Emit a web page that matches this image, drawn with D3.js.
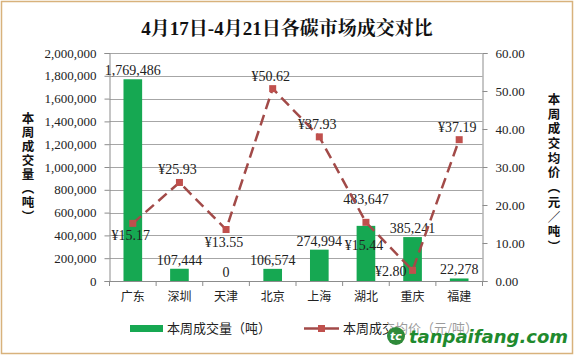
<!DOCTYPE html>
<html><head><meta charset="utf-8">
<script src="https://cdn.jsdelivr.net/npm/d3@7"></script>
<style>
html,body{margin:0;padding:0;background:#fff;}
svg{display:block;}
</style></head>
<body>
<svg id="chart" width="577" height="357"></svg>
<script>
const categories = ["广东","深圳","天津","北京","上海","湖北","重庆","福建"];
const volumes = [1769486, 107444, 0, 106574, 274994, 483647, 385241, 22278];
const prices = [15.17, 25.93, 13.55, 50.62, 37.93, 15.44, 2.80, 37.19];
const leftTicks = [0,200000,400000,600000,800000,1000000,1200000,1400000,1600000,1800000,2000000];
const rightTicks = [0,10,20,30,40,50,60];
const title = "4月17日-4月21日各碳市场成交对比";
const leftTitle = "本周成交量（吨）";
const rightTitle = "本周成交均价（元／吨）";
const legendLabels = ["本周成交量（吨）","本周成交均价（元/吨）"];
// label placement (style, not data)
const priceLabelPlace = ["below","above","below","above","above","below","left","above"];
const volLabelExtra = [0,0,0,0,0,18,0,0];

const serif = "'Liberation Serif','Times New Roman','Noto Serif CJK SC','Noto Sans CJK SC',serif";
const cjk = "'Noto Sans CJK SC','Noto Sans',sans-serif";
const barColor = "#16a852";
const lineColor = "#a24a48";
const markColor = "#c0504d";

const svg = d3.select("#chart");
svg.append("rect").attr("x",1.5).attr("y",1.5).attr("width",571).attr("height",352)
  .attr("fill","#fff").attr("stroke","#d8b27c").attr("stroke-width",1.5);

const m = {l:109.5, r:482.5, t:53, b:281};
const x = d3.scaleBand().domain(categories).range([m.l,m.r]).paddingInner(0.6).paddingOuter(0.3);
const xb = d3.scaleBand().domain(categories).range([m.l,m.r]);
const y = d3.scaleLinear().domain([0,2000000]).range([m.b,m.t]);
const y2 = d3.scaleLinear().domain([0,60]).range([m.b,m.t]);

// title
svg.append("text").attr("x",287).attr("y",35).attr("text-anchor","middle")
  .attr("font-family",serif).attr("font-weight","bold").attr("font-size",19).attr("fill","#111").text(title);

// gridlines
svg.append("g").selectAll("line").data(leftTicks.slice(1)).join("line")
  .attr("x1",m.l).attr("x2",m.r).attr("y1",d=>Math.round(y(d))+0.5).attr("y2",d=>Math.round(y(d))+0.5)
  .attr("stroke","#a6a6a6").attr("stroke-width",1);

// left axis
const gl = svg.append("g").attr("transform",`translate(${m.l},0)`)
  .call(d3.axisLeft(y).tickValues(leftTicks).tickFormat(d3.format(",")).tickSize(5).tickPadding(8));
gl.selectAll("text").attr("font-family",serif).attr("font-size",13).attr("fill","#222");
gl.selectAll("line,path").attr("stroke","#8c8c8c");

// right axis
const gr = svg.append("g").attr("transform",`translate(${m.r},0)`)
  .call(d3.axisRight(y2).tickValues(rightTicks).tickFormat(d3.format(".2f")).tickSize(5).tickPadding(8));
gr.selectAll("text").attr("font-family",serif).attr("font-size",13).attr("fill","#222");
gr.selectAll("line,path").attr("stroke","#8c8c8c");

// bottom axis
const gb = svg.append("g").attr("transform",`translate(0,${m.b})`)
  .call(d3.axisBottom(xb).tickSize(0).tickPadding(11));
gb.selectAll("text").attr("font-family",cjk).attr("font-size",12).attr("fill","#222");
gb.select("path").attr("stroke","#8c8c8c");
const bounds = categories.map(c=>xb(c)).concat([m.r]);
svg.append("g").selectAll("line").data(bounds).join("line")
  .attr("x1",d=>d).attr("x2",d=>d).attr("y1",m.b).attr("y2",m.b+5).attr("stroke","#8c8c8c");

// bars
svg.append("g").selectAll("rect").data(volumes).join("rect")
  .attr("x",(d,i)=>x(categories[i])).attr("width",x.bandwidth())
  .attr("y",d=>y(d)).attr("height",d=>m.b-y(d)).attr("fill",barColor);

// bar labels
svg.append("g").selectAll("text").data(volumes).join("text")
  .attr("x",(d,i)=>xb(categories[i])+xb.bandwidth()/2)
  .attr("y",(d,i)=>y(d)-4-volLabelExtra[i])
  .attr("text-anchor","middle").attr("font-family",serif).attr("font-size",14).attr("fill","#222")
  .text(d=>d3.format(",")(d));

// line
const px = i => xb(categories[i])+xb.bandwidth()/2;
const line = d3.line().x((d,i)=>px(i)).y(d=>y2(d));
svg.append("path").datum(prices).attr("d",line).attr("fill","none")
  .attr("stroke",lineColor).attr("stroke-width",2.5).attr("stroke-dasharray","11,6");
svg.append("g").selectAll("rect").data(prices).join("rect")
  .attr("x",(d,i)=>px(i)-3.5).attr("y",d=>y2(d)-3.5).attr("width",7).attr("height",7).attr("fill",markColor);

// price labels
svg.append("g").selectAll("text").data(prices).join("text")
  .attr("x",(d,i)=>priceLabelPlace[i]==="left"?px(i)-6:px(i)-2)
  .attr("y",(d,i)=>{
    const p = priceLabelPlace[i];
    if(p==="above") return y2(d)-8;
    if(p==="left") return y2(d)+6;
    return y2(d)+ (i===5?28:17);
  })
  .attr("text-anchor",(d,i)=>priceLabelPlace[i]==="left"?"end":"middle")
  .attr("font-family",serif).attr("font-size",14).attr("fill","#222")
  .text(d=>"¥"+d3.format(".2f")(d));

// axis titles (vertical writing)
svg.append("text").attr("x",28).attr("y",112).attr("writing-mode","vertical-rl")
  .style("writing-mode","vertical-rl").attr("letter-spacing",1.5)
  .attr("font-family",cjk).attr("font-weight","bold").attr("font-size",12.5).attr("fill","#111").text(leftTitle);
svg.append("text").attr("x",554).attr("y",93).attr("writing-mode","vertical-rl")
  .style("writing-mode","vertical-rl").attr("letter-spacing",2.2)
  .attr("font-family",cjk).attr("font-weight","bold").attr("font-size",12.5).attr("fill","#111").text(rightTitle);

// legend
const lg = svg.append("g");
lg.append("rect").attr("x",130).attr("y",325).attr("width",33).attr("height",7).attr("fill",barColor);
lg.append("text").attr("x",167).attr("y",333).attr("font-family",cjk).attr("font-size",13).attr("fill","#222").text(legendLabels[0]);
lg.append("line").attr("x1",304).attr("x2",339).attr("y1",328.5).attr("y2",328.5).attr("stroke",lineColor).attr("stroke-width",2.5);
lg.append("rect").attr("x",318).attr("y",325).attr("width",7).attr("height",7).attr("fill",markColor);
lg.append("text").attr("x",343).attr("y",333).attr("font-family",cjk).attr("font-size",13).attr("fill","#222").text(legendLabels[1]);

// watermark
const wm = svg.append("g");
wm.append("rect").attr("x",388).attr("y",322).attr("width",182).attr("height",26).attr("fill","#fff").attr("opacity",0.55);
wm.append("circle").attr("cx",396).attr("cy",336).attr("r",9).attr("fill","#2f8a3a");
wm.append("text").attr("x",396).attr("y",340).attr("text-anchor","middle").attr("font-family","'DejaVu Sans',sans-serif")
  .attr("font-weight","bold").attr("font-style","italic").attr("font-size",11).attr("fill","#fff").text("tc");
wm.append("text").attr("x",409).attr("y",343).attr("font-family","'DejaVu Sans',sans-serif")
  .attr("font-weight","bold").attr("font-style","italic").attr("font-size",18).attr("fill","#1f8a2e").text("tanpaifang.com");
</script>
</body></html>
